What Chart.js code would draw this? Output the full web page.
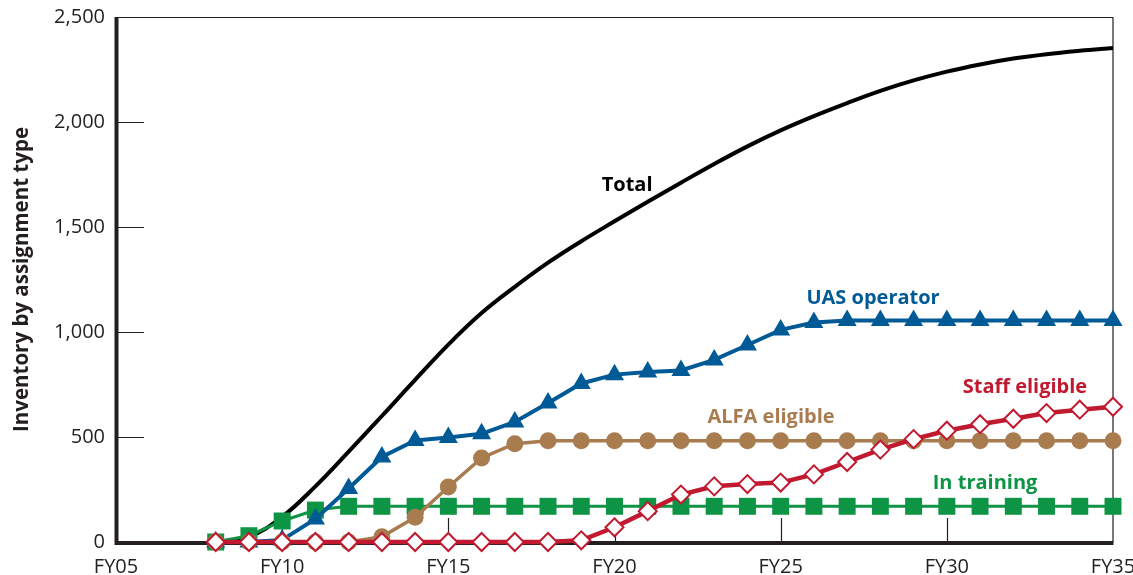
<!DOCTYPE html>
<html>
<head>
<meta charset="utf-8">
<script src="https://cdn.jsdelivr.net/npm/chart.js@4.4.1/dist/chart.umd.min.js"></script>
<style>
html,body{margin:0;padding:0;background:#ffffff;}
#wrap{width:1133px;height:575px;position:relative;}
</style>
</head>
<body>
<div id="wrap"><canvas id="c"></canvas></div>
<script>
// Fiscal years (FY08 .. FY35)
const years = [8,9,10,11,12,13,14,15,16,17,18,19,20,21,22,23,24,25,26,27,28,29,30,31,32,33,34,35];

const totalValues    = [0,25,120,265,430,600,772,940,1090,1215,1330,1432,1527,1620,1711,1800,1884,1960,2028,2090,2148,2198,2240,2274,2302,2323,2339,2352];
const uasValues      = [0,0,10,110,255,405,483,498,515,572,662,755,797,810,817,867,938,1010,1045,1055,1055,1055,1055,1055,1055,1055,1055,1055];
const alfaValues     = [0,0,0,0,0,25,118,262,400,468,482,482,482,482,482,482,482,482,482,482,482,482,482,482,482,482,482,482];
const staffValues    = [0,0,0,0,0,0,0,0,0,0,0,8,70,147,226,265,276,283,322,381,440,490,530,561,587,614,630,644];
const trainingValues = [0,30,100,152,170,170,170,170,170,170,170,170,170,170,170,170,170,170,170,170,170,170,170,170,170,170,170,170];

const xTickLabels = ['FY05','FY10','FY15','FY20','FY25','FY30','FY35'];
const yTickLabels = ['0','500','1,000','1,500','2,000','2,500'];

const seriesNames = ['Staff eligible','ALFA eligible','UAS operator','In training','Total'];
const colors = {
  staff: '#c1192f',
  alfa: '#a87c4f',
  uas: '#005a96',
  training: '#0d9444',
  total: '#000000',
  axis: '#231f20'
};

// Series label annotations (year, value)
const annotations = [
  {text: 'Total',          x: 20.38, y: 1700, color: colors.total},
  {text: 'UAS operator',   x: 27.78, y: 1160, color: colors.uas},
  {text: 'ALFA eligible',  x: 24.71, y: 592,  color: colors.alfa},
  {text: 'Staff eligible', x: 32.35, y: 736,  color: colors.staff},
  {text: 'In training',    x: 31.15, y: 280,  color: colors.training}
];

const toPoints = vals => years.map((yr, i) => ({x: yr, y: vals[i]}));

const framePlugin = {
  id: 'frame',
  beforeDatasetsDraw(chart) {
    const {ctx, chartArea: a, scales} = chart;
    ctx.save();
    ctx.strokeStyle = colors.axis;
    ctx.lineWidth = 1.2;
    ctx.beginPath();
    ctx.moveTo(a.left, a.top + 0.5);
    ctx.lineTo(a.right, a.top + 0.5);
    ctx.moveTo(a.right, a.top);
    ctx.lineTo(a.right, a.bottom);
    ctx.stroke();
    ctx.beginPath();
    [500,1000,1500,2000].forEach(v => {
      const y = Math.round(scales.y.getPixelForValue(v)) + 0.5;
      ctx.moveTo(a.left, y);
      ctx.lineTo(a.left + 28, y);
    });
    [10,15,20,25,30].forEach(v => {
      const x = Math.round(scales.x.getPixelForValue(v)) + 0.5;
      ctx.moveTo(x, a.bottom);
      ctx.lineTo(x, a.bottom - 24);
    });
    ctx.stroke();
    ctx.lineWidth = 4;
    ctx.beginPath();
    ctx.moveTo(a.left + 0.5, a.top);
    ctx.lineTo(a.left + 0.5, a.bottom + 1);
    ctx.lineTo(a.right + 0.5, a.bottom + 1);
    ctx.stroke();
    ctx.restore();
  },
  afterDatasetsDraw(chart) {
    const {ctx, scales} = chart;
    ctx.save();
    ctx.font = 'bold 20px "Open Sans"';
    ctx.textAlign = 'center';
    ctx.textBaseline = 'middle';
    annotations.forEach(an => {
      ctx.fillStyle = an.color;
      ctx.fillText(an.text, scales.x.getPixelForValue(an.x), scales.y.getPixelForValue(an.y));
    });
    ctx.restore();
  }
};

new Chart(document.getElementById('c'), {
  type: 'line',
  data: {
    datasets: [
      {
        label: seriesNames[0], data: toPoints(staffValues),
        borderColor: colors.staff, borderWidth: 4.5,
        pointStyle: 'rectRot', pointRadius: 9,
        pointBackgroundColor: '#ffffff', pointBorderColor: colors.staff, pointBorderWidth: 2,
        tension: 0, clip: false
      },
      {
        label: seriesNames[1], data: toPoints(alfaValues),
        borderColor: colors.alfa, borderWidth: 3.5,
        pointStyle: 'circle', pointRadius: 8.5,
        pointBackgroundColor: colors.alfa, pointBorderColor: colors.alfa, pointBorderWidth: 0,
        tension: 0, clip: false
      },
      {
        label: seriesNames[2], data: toPoints(uasValues),
        borderColor: colors.uas, borderWidth: 4,
        pointStyle: 'triangle', pointRadius: 11,
        pointBackgroundColor: colors.uas, pointBorderColor: colors.uas, pointBorderWidth: 0,
        tension: 0, clip: false
      },
      {
        label: seriesNames[3], data: toPoints(trainingValues),
        borderColor: colors.training, borderWidth: 3,
        pointStyle: 'rect', pointRadius: 12,
        pointBackgroundColor: colors.training, pointBorderColor: colors.training, pointBorderWidth: 0,
        tension: 0, clip: false
      },
      {
        label: seriesNames[4], data: toPoints(totalValues),
        borderColor: colors.total, borderWidth: 4,
        pointRadius: 0, tension: 0.4, clip: false
      }
    ]
  },
  options: {
    responsive: true,
    maintainAspectRatio: false,
    animation: false,
    devicePixelRatio: 1,
    layout: {padding: {left: 0, top: 17, right: 20, bottom: 0}},
    plugins: {legend: {display: false}, tooltip: {enabled: false}},
    elements: {point: {hoverRadius: 0}},
    scales: {
      x: {
        type: 'linear', min: 5, max: 35,
        grid: {display: false, drawTicks: false},
        border: {display: false},
        ticks: {
          stepSize: 5, autoSkip: false, maxRotation: 0, padding: 13,
          color: colors.axis, font: {family: '"Open Sans"', size: 20},
          callback: v => xTickLabels[Math.round((v - 5) / 5)]
        },
        afterFit: s => { s.height = 33; s.paddingLeft = 0; s.paddingRight = 0; s.paddingTop = 0; s.paddingBottom = 0; }
      },
      y: {
        min: 0, max: 2500,
        grid: {display: false, drawTicks: false},
        border: {display: false},
        ticks: {
          stepSize: 500, padding: 11,
          color: colors.axis, font: {family: '"Open Sans"', size: 20},
          callback: v => yTickLabels[Math.round(v / 500)]
        },
        title: {
          display: true, text: 'Inventory by assignment type',
          color: colors.axis, font: {family: '"Open Sans"', size: 20.5, weight: 'bold'},
          padding: {top: 10, bottom: 0}
        },
        afterFit: s => { s.width = 116; s.paddingTop = 0; s.paddingBottom = 0; s.paddingLeft = 0; s.paddingRight = 0; }
      }
    }
  },
  plugins: [framePlugin]
});
</script>
</body>
</html>
